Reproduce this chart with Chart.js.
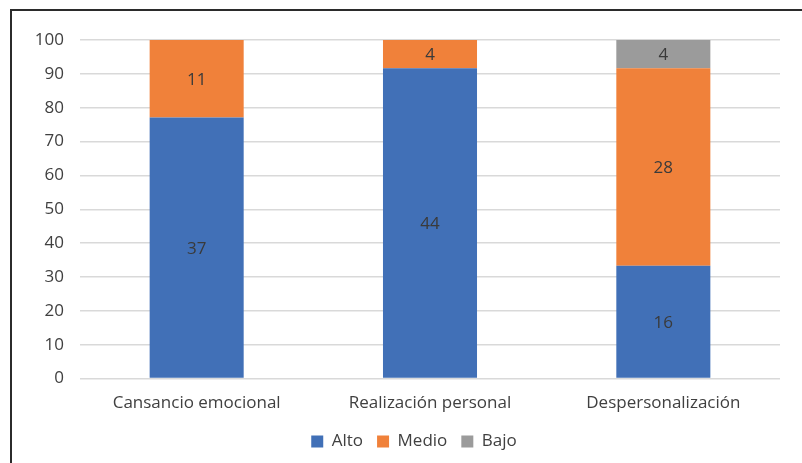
<!DOCTYPE html>
<html>
<head>
    <meta charset="utf-8">
    <title>Dimensiones</title>
    <script src="https://cdn.jsdelivr.net/npm/chart.js@4.4.0/dist/chart.umd.min.js"></script>
    <style>
        html, body { margin: 0; padding: 0; background: #fff; }
        #wrap { position: relative; width: 802px; height: 463px; }
    </style>
</head>
<body>
<div id="wrap">
    <canvas id="canvas"></canvas>
</div>
<script>
    // categories and counts per level (bars are shown as % of each column)
    const categorias = ['Cansancio emocional', 'Realización personal', 'Despersonalización'];
    const alto = [37, 44, 16];
    const medio = [11, 4, 28];
    const bajo = [0, 0, 4];
    const yTicks = [0, 10, 20, 30, 40, 50, 60, 70, 80, 90, 100];

    const totales = categorias.map((c, i) => alto[i] + medio[i] + bajo[i]);
    const pct = arr => arr.map((v, i) => v / totales[i] * 100);

    const fuente = '"Open Sans", sans-serif';

    // frame lines (top + left) like the source figure
    const marco = {
        id: 'marco',
        beforeDraw(chart) {
            const ctx = chart.ctx;
            ctx.save();
            ctx.fillStyle = '#fff';
            ctx.fillRect(0, 0, chart.width, chart.height);
            ctx.strokeStyle = '#2b2b2b';
            ctx.lineWidth = 2;
            ctx.beginPath();
            ctx.moveTo(11, chart.height);
            ctx.lineTo(11, 10);
            ctx.lineTo(chart.width, 10);
            ctx.stroke();
            ctx.restore();
        }
    };

    // legend sits a bit right of centre in the original
    const moverLeyenda = {
        id: 'moverLeyenda',
        afterLayout(chart) {
            chart.legend.left += 19;
            chart.legend.right += 19;
        }
    };

    // count labels in the middle of each segment
    const etiquetas = {
        id: 'etiquetas',
        afterDatasetsDraw(chart) {
            const ctx = chart.ctx;
            ctx.save();
            ctx.font = '17px ' + fuente;
            ctx.fillStyle = '#3a3a3a';
            ctx.textAlign = 'center';
            ctx.textBaseline = 'middle';
            chart.data.datasets.forEach((ds, di) => {
                chart.getDatasetMeta(di).data.forEach((bar, i) => {
                    const n = ds.counts[i];
                    if (!n) return;
                    ctx.fillText(String(n), bar.x, (bar.y + bar.base) / 2 + 1);
                });
            });
            ctx.restore();
        }
    };

    const serie = (label, counts, color) => ({
        label: label,
        counts: counts,
        data: pct(counts),
        backgroundColor: color,
        borderWidth: 0,
        categoryPercentage: 1,
        barPercentage: 0.403
    });

    new Chart(document.getElementById('canvas'), {
        type: 'bar',
        data: {
            labels: categorias,
            datasets: [
                serie('Alto', alto, '#4170B7'),
                serie('Medio', medio, '#F0813A'),
                serie('Bajo', bajo, '#9B9B9B')
            ]
        },
        options: {
            responsive: true,
            maintainAspectRatio: false,
            animation: false,
            layout: { padding: { left: 10, right: 22, top: 40, bottom: 3 } },
            plugins: {
                tooltip: { enabled: false },
                legend: {
                    position: 'bottom',
                    labels: {
                        boxWidth: 12,
                        boxHeight: 12,
                        padding: 14,
                        color: '#404040',
                        font: { family: fuente, size: 17 }
                    }
                }
            },
            scales: {
                x: {
                    stacked: true,
                    grid: { display: false },
                    border: { display: false },
                    ticks: {
                        color: '#404040',
                        padding: 6,
                        font: { family: fuente, size: 17 }
                    }
                },
                y: {
                    stacked: true,
                    min: 0,
                    max: 100,
                    afterBuildTicks(axis) {
                        axis.ticks = yTicks.map(v => ({ value: v }));
                    },
                    afterFit(axis) { axis.width = 70; },
                    grid: { color: '#d9d9d9', lineWidth: 1.5, drawTicks: false },
                    border: { display: false },
                    ticks: {
                        color: '#404040',
                        padding: 16,
                        font: { family: fuente, size: 17 }
                    }
                }
            }
        },
        plugins: [marco, moverLeyenda, etiquetas]
    });
</script>
</body>
</html>
